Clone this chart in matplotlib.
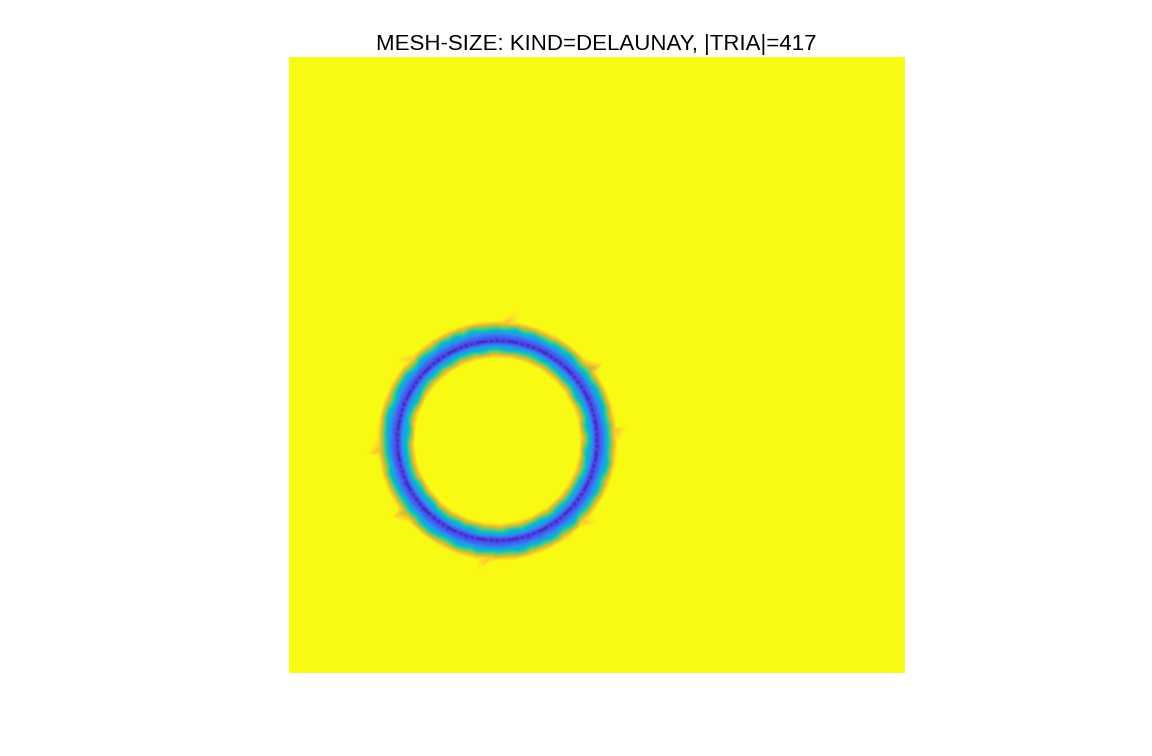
import numpy as np
import matplotlib

matplotlib.use("Agg")

import matplotlib.pyplot as plt
import matplotlib.tri as mtri
from matplotlib.colors import LinearSegmentedColormap

# --- mesh-size function around a circle -----------------------------------
CENTRE = (0.338, 0.377)
RADIUS = 0.162
HMIN, HMAX = 0.0, 1.0

# h (normalised) against distance from the circle
dist_out = [0.0, 0.004, 0.012, 0.019, 0.023, 0.028, 0.032]
dist_in = [0.0, 0.0025, 0.0065, 0.013, 0.0195, 0.0225, 0.026]
h_levels = [0.0, 0.12, 0.22, 0.38, 0.50, 0.85, 1.0]

# background Delaunay nodes: rings around the circle
ring_offsets = [0.0, 0.004, -0.0025, 0.010, -0.006, 0.016, -0.011,
                0.022, -0.017, 0.034, -0.028, 0.052, -0.045]
ring_counts = [120, 100, 100, 60, 56, 34, 30, 22, 20, 40, 32, 24, 14]
ring_shift = [0.0, 0.5, 0.5, 0.2, 0.7, 0.6, 0.1, 0.3, 0.55, 0.8, 0.2, 0.4, 0.9]
ring_jitter = [0.0, 0.0, 0.0, 0.0015, 0.001, 0.0045, 0.003, 0.006, 0.0045,
               0.0, 0.0, 0.0, 0.0]
far_spacing = 1.0 / 12
far_clearance = 0.08

# approximated MATLAB parula
parula_pts = [
    (0.2422, 0.1504, 0.6603),
    (0.2810, 0.3228, 0.9579),
    (0.1540, 0.5902, 0.9218),
    (0.0297, 0.7082, 0.8163),
    (0.1938, 0.7758, 0.6251),
    (0.5044, 0.7993, 0.3480),
    (0.8634, 0.7406, 0.1596),
    (0.9892, 0.8136, 0.1885),
    (0.9769, 0.9839, 0.0805),
]
parula = LinearSegmentedColormap.from_list("parula", parula_pts)

xs, ys = [], []
for off, n, sh, jt in zip(ring_offsets, ring_counts, ring_shift, ring_jitter):
    k = np.arange(n)
    t = 2 * np.pi * (k + sh) / n
    r = RADIUS + off + jt * np.sin(2.3 * k + 7 * sh)
    xs.append(CENTRE[0] + r * np.cos(t))
    ys.append(CENTRE[1] + r * np.sin(t))

g = np.arange(0, 1 + 1e-9, far_spacing)
gx, gy = np.meshgrid(g, g)
gx, gy = gx.ravel(), gy.ravel()
keep = np.abs(np.hypot(gx - CENTRE[0], gy - CENTRE[1]) - RADIUS) > far_clearance
keep |= (gx == 0) | (gx == 1) | (gy == 0) | (gy == 1)
xs.append(gx[keep])
ys.append(gy[keep])

x = np.concatenate(xs)
y = np.concatenate(ys)
sd = np.hypot(x - CENTRE[0], y - CENTRE[1]) - RADIUS
h_out = np.interp(sd, dist_out, h_levels)
h_in = np.interp(-sd, dist_in, h_levels)
hfun = HMIN + (HMAX - HMIN) * np.where(sd > 0, h_out, h_in)

# piecewise-linear hfun on the Delaunay triangulation, sampled on a grid
tria = mtri.Triangulation(x, y)
interp = mtri.LinearTriInterpolator(tria, hfun)
s = np.linspace(0, 1, 900)
sx, sy = np.meshgrid(s, s)
field = interp(sx, sy).filled(HMAX)

fig = plt.figure(figsize=(11.52, 7.56), dpi=100)
ax = fig.add_axes([0.25, 0.1098, 0.5356, 0.8148])
ax.imshow(field, origin="lower", extent=(0, 1, 0, 1), cmap=parula,
          vmin=HMIN, vmax=HMAX, interpolation="bilinear")
ax.set_xlim(0, 1)
ax.set_ylim(0, 1)
ax.set_aspect("equal")
ax.axis("off")
ax.set_title("MESH-SIZE: KIND=DELAUNAY, |TRIA|=417",
             fontsize=16, family="Liberation Sans", pad=5)

fig.savefig("out.png", dpi=100, facecolor="white")
